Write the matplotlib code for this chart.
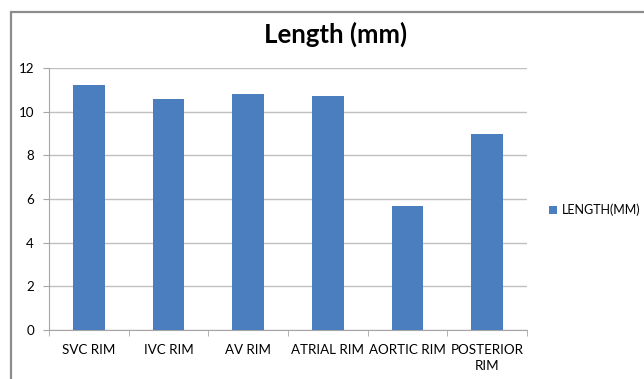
import matplotlib.pyplot as plt
from matplotlib.patches import Rectangle

categories = ['SVC RIM', 'IVC RIM', 'AV RIM', 'ATRIAL RIM', 'AORTIC RIM', 'POSTERIOR\nRIM']
lengths = [11.2, 10.6, 10.8, 10.7, 5.7, 9.0]
series_name = 'LENGTH(MM)'

W, H = 644, 379
plt.rcParams['font.family'] = ['Lato', 'DejaVu Sans']
fig = plt.figure(figsize=(W / 100, H / 100), dpi=100)

# outer chart border (runs off the right and bottom edges)
fig.patches.append(Rectangle((11 / W, -0.1), 1.2, 1 - 12 / H + 0.1, transform=fig.transFigure,
                             fill=False, ec='#8c8c8c', lw=1.6))

ax = fig.add_axes([49 / W, 1 - 330 / H, (527 - 49) / W, (330 - 68) / H])
x = list(range(len(categories)))
ax.bar(x, lengths, width=0.4, color='#4A7EBF', label=series_name, zorder=3)

ax.set_xlim(-0.5, len(categories) - 0.5)
ax.set_ylim(0, 12)
ax.set_yticks(range(0, 13, 2))
ax.yaxis.grid(True, color='#c0c0c0', lw=1)
ax.set_axisbelow(True)

ax.set_xticks(x)
ax.set_xticklabels(categories, fontsize=9.6, linespacing=1.45)
ax.tick_params(axis='x', length=0, pad=10)
ax.set_xticks([i - 0.5 for i in range(len(categories) + 1)], minor=True)
ax.tick_params(axis='x', which='minor', length=4, color='#a6a6a6', direction='out')
ax.tick_params(axis='y', length=4.3, color='#a6a6a6', labelsize=9.6, pad=6.5)

for s in ['top', 'right']:
    ax.spines[s].set_visible(False)
for s in ['left', 'bottom']:
    ax.spines[s].set_color('#a6a6a6')

fig.text(336 / W, 1 - 34 / H, 'Length (mm)', ha='center', va='center',
         fontsize=18.5, fontweight='bold')

fig.legend(loc='center left', bbox_to_anchor=(549 / W, 1 - 210 / H), frameon=False,
           fontsize=9.0, handlelength=0.65, handleheight=0.65, handletextpad=0.4,
           borderpad=0, borderaxespad=0)

fig.savefig('out.png', dpi=100)
